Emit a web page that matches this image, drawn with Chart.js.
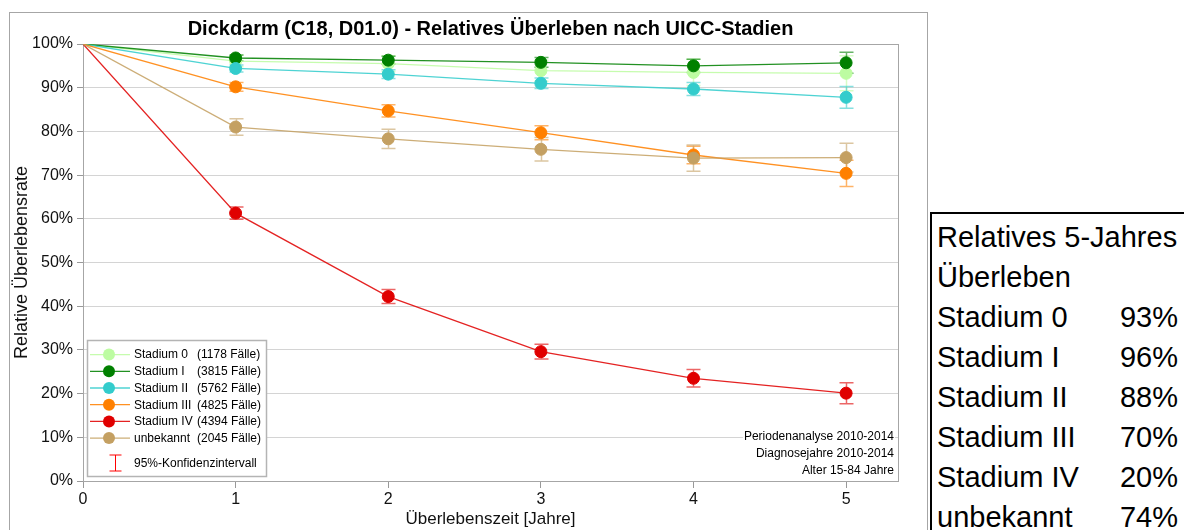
<!DOCTYPE html>
<html>
<head>
<meta charset="utf-8">
<script src="https://cdn.jsdelivr.net/npm/chart.js@4"></script>
<style>
body { margin:0; width:1184px; height:530px; overflow:hidden; background:#fff; font-family:'Liberation Sans', Arial, sans-serif; }
#frame { position:absolute; left:9px; top:12px; width:917px; height:530px; border:1px solid #a6a6a6; }
#frame canvas { display:block; }
#summary { position:absolute; left:930px; top:212px; width:270px; height:340px; border:2px solid #000; box-sizing:border-box; padding:3px 0 0 5px; font-size:29px; line-height:40px; color:#000; }
#summary .row { display:flex; justify-content:space-between; width:241px; white-space:nowrap; }
</style>
</head>
<body>
<div id="frame"><canvas id="survivalChart" width="917" height="517"></canvas></div>
<div id="summary"></div>
<script>
// years after diagnosis
const years = [0, 1, 2, 3, 4, 5];

// relative survival in %
const stadium0  = [100, 96.1, 95.5, 93.9, 93.5, 93.3];
const stadium1  = [100, 96.8, 96.3, 95.8, 95.0, 95.7];
const stadium2  = [100, 94.4, 93.1, 91.0, 89.7, 87.8];
const stadium3  = [100, 90.2, 84.7, 79.7, 74.6, 70.4];
const stadium4  = [100, 61.3, 42.2, 29.6, 23.5, 20.1];
const unbekannt = [100, 81.0, 78.3, 75.9, 73.9, 74.0];

// half width of the 95% confidence interval
const ci0 = [0, 1.3, 1.8, 2.4, 3.0, 4.0];
const ci1 = [0, 0.7, 0.9, 1.1, 1.5, 2.4];
const ci2 = [0, 0.8, 1.0, 1.2, 1.5, 2.5];
const ci3 = [0, 1.0, 1.4, 1.6, 2.0, 3.0];
const ci4 = [0, 1.4, 1.6, 1.7, 2.0, 2.4];
const ciU = [0, 1.9, 2.2, 2.7, 3.0, 3.3];

const names = ['Stadium 0', 'Stadium I', 'Stadium II', 'Stadium III', 'Stadium IV', 'unbekannt'];
const cases = [1178, 3815, 5762, 4825, 4394, 2045];
const colors = ['#bdfca2', '#008000', '#33cccc', '#ff8000', '#e00000', '#c4a062'];

const yTicks = [0, 10, 20, 30, 40, 50, 60, 70, 80, 90, 100];
const notes = ['Periodenanalyse 2010-2014', 'Diagnosejahre 2010-2014', 'Alter 15-84 Jahre'];
const chartTitle = 'Dickdarm (C18, D01.0) - Relatives Überleben nach UICC-Stadien';

const series = [stadium0, stadium1, stadium2, stadium3, stadium4, unbekannt];
const cis = [ci0, ci1, ci2, ci3, ci4, ciU];
const FONT = '"Liberation Sans", Arial, sans-serif';

const overlay = {
    id: 'overlay',
    beforeDatasetsDraw(chart) {
        const { ctx, chartArea: a, scales: { x, y } } = chart;
        ctx.save();
        ctx.strokeStyle = '#a6a6a6';
        ctx.lineWidth = 1;
        ctx.strokeRect(a.left + 0.5, a.top + 0.5, a.right - a.left, a.bottom - a.top);
        // error bars
        chart.data.datasets.forEach(ds => {
            ctx.strokeStyle = ds.barColor;
            ctx.lineWidth = 1.5;
            ds.data.forEach((p, j) => {
                const h = ds.ci[j];
                if (!h) return;
                const px = Math.round(x.getPixelForValue(p.x)) + 0.5;
                const y1 = y.getPixelForValue(p.y + h);
                const y2 = y.getPixelForValue(p.y - h);
                ctx.beginPath();
                ctx.moveTo(px, y1); ctx.lineTo(px, y2);
                ctx.moveTo(px - 7, y1); ctx.lineTo(px + 7, y1);
                ctx.moveTo(px - 7, y2); ctx.lineTo(px + 7, y2);
                ctx.stroke();
            });
        });
        ctx.restore();
    },
    afterDraw(chart) {
        const { ctx, chartArea: a } = chart;
        ctx.save();
        // title
        ctx.fillStyle = '#000';
        ctx.font = 'bold 20px ' + FONT;
        ctx.textAlign = 'center';
        ctx.textBaseline = 'middle';
        ctx.fillText(chartTitle, (a.left + a.right) / 2, 16);

        // legend box
        const bw = 179, bh = 136;
        const bx = a.left + 4, by = a.bottom - 5 - bh;
        ctx.fillStyle = '#fff';
        ctx.fillRect(bx, by, bw, bh);
        ctx.strokeStyle = '#b4b4b4';
        ctx.lineWidth = 1.5;
        ctx.strokeRect(bx + 0.5, by + 0.5, bw, bh);
        ctx.font = '12px ' + FONT;
        ctx.textAlign = 'left';
        names.forEach((n, i) => {
            const cy = by + 14.6 + 16.7 * i;
            ctx.strokeStyle = colors[i] + 'dd';
            ctx.lineWidth = 1.3;
            ctx.beginPath();
            ctx.moveTo(bx + 3, cy); ctx.lineTo(bx + 43, cy);
            ctx.stroke();
            ctx.fillStyle = colors[i];
            ctx.beginPath();
            ctx.arc(bx + 22, cy, 6, 0, Math.PI * 2);
            ctx.fill();
            ctx.fillStyle = '#000';
            ctx.fillText(n, bx + 47, cy + 0.5);
            ctx.fillText('(' + cases[i] + ' Fälle)', bx + 110, cy + 0.5);
        });
        const cy = by + 123;
        const ix = bx + 28.5;
        ctx.strokeStyle = '#ff0000';
        ctx.lineWidth = 1;
        ctx.beginPath();
        ctx.moveTo(ix, cy - 8); ctx.lineTo(ix, cy + 8);
        ctx.moveTo(ix - 6, cy - 8); ctx.lineTo(ix + 6, cy - 8);
        ctx.moveTo(ix - 6, cy + 8); ctx.lineTo(ix + 6, cy + 8);
        ctx.stroke();
        ctx.fillStyle = '#000';
        ctx.fillText('95%-Konfidenzintervall', bx + 47, cy + 0.5);

        // notes bottom right
        ctx.textAlign = 'right';
        notes.forEach((t, k) => {
            const ty = a.bottom - 45 + 17.3 * k;
            const w = ctx.measureText(t).width;
            ctx.fillStyle = '#fff';
            ctx.fillRect(a.right - 5 - w, ty - 7, w + 2, 14);
            ctx.fillStyle = '#000';
            ctx.fillText(t, a.right - 4, ty + 0.5);
        });
        ctx.restore();
    }
};

const ctx = document.getElementById('survivalChart').getContext('2d');
const myChart = new Chart(ctx, {
    type: 'line',
    data: {
        datasets: series.map((s, i) => ({
            label: names[i],
            data: years.map((x, j) => ({ x: x, y: s[j] })),
            borderColor: colors[i] + 'dd',
            backgroundColor: colors[i],
            pointBackgroundColor: colors[i],
            pointBorderColor: colors[i],
            pointBorderWidth: 1,
            pointRadius: years.map(x => x === 0 ? 0 : 6),
            pointHoverRadius: 0,
            borderWidth: 1.3,
            tension: 0,
            order: 5 - i,
            ci: cis[i],
            barColor: colors[i] + '99'
        }))
    },
    options: {
        responsive: false,
        animation: false,
        events: [],
        layout: { padding: { top: 31, right: 29, bottom: 0, left: 0 } },
        scales: {
            x: {
                type: 'linear',
                min: 0,
                max: 5.34,
                afterFit: scale => { scale.height = 49; },
                ticks: {
                    stepSize: 1,
                    includeBounds: false,
                    padding: 2,
                    color: '#111',
                    font: { family: FONT, size: 16 }
                },
                grid: { drawOnChartArea: false, drawTicks: true, tickLength: 7, tickColor: '#999' },
                border: { color: '#8c8c8c' },
                title: {
                    display: true,
                    text: 'Überlebenszeit [Jahre]',
                    color: '#111',
                    font: { family: FONT, size: 17 },
                    padding: { top: 0, bottom: 0 }
                }
            },
            y: {
                min: 0,
                max: 100,
                afterFit: scale => { scale.width = 73; },
                afterBuildTicks: scale => { scale.ticks = yTicks.map(v => ({ value: v })); },
                ticks: {
                    padding: 4,
                    color: '#111',
                    font: { family: FONT, size: 16 },
                    callback: v => v + '%'
                },
                grid: { color: '#d4d4d4', tickLength: 6, tickColor: '#999' },
                border: { color: '#8c8c8c' },
                title: {
                    display: true,
                    text: 'Relative Überlebensrate',
                    color: '#111',
                    font: { family: FONT, size: 18 },
                    padding: { top: 1, bottom: 0 }
                }
            }
        },
        plugins: {
            legend: { display: false },
            tooltip: { enabled: false }
        }
    },
    plugins: [overlay]
});

// 5-year table on the right
const summary = document.getElementById('summary');
let html = '<div>Relatives 5-Jahres</div><div>Überleben</div>';
names.forEach((n, i) => {
    html += '<div class="row"><span>' + n + '</span><span>' + Math.round(series[i][5]) + '%</span></div>';
});
summary.innerHTML = html;
</script>
</body>
</html>
